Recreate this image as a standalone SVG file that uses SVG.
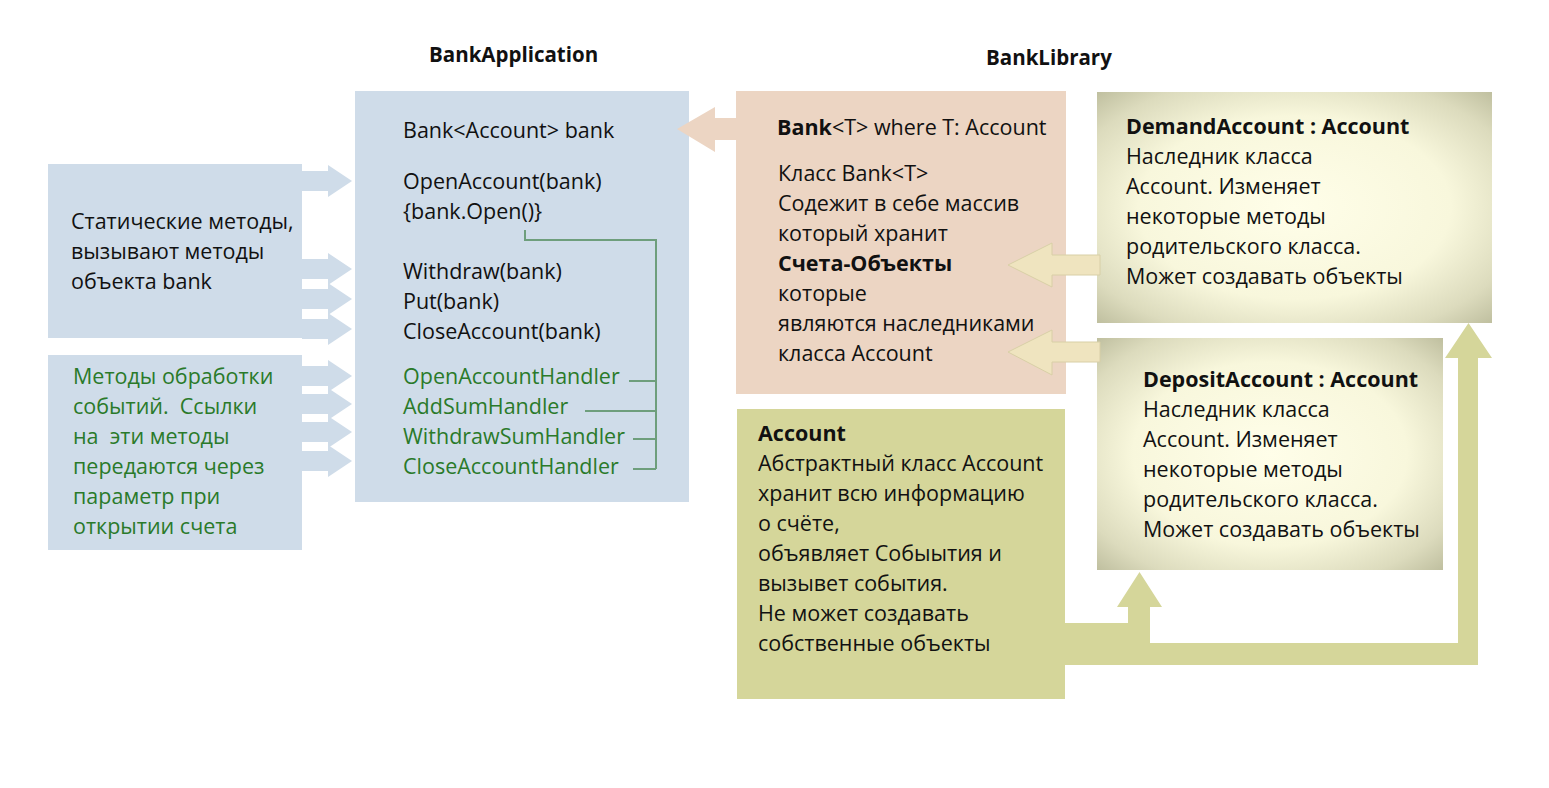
<svg xmlns="http://www.w3.org/2000/svg" width="1549" height="788" viewBox="0 0 1549 788">
<style>
text{font-family:"Open Sans","Noto Sans","Liberation Sans",sans-serif;font-size:21.5px;fill:#111;white-space:pre}
.b{font-weight:bold}
.g{fill:#2a7a2a}
.h{font-weight:bold;font-size:20.5px}
.blue{fill:#cfdce9}
.peach{fill:#ecd5c3}
.olive{fill:#d5d69a}
.beige{fill:#efe4bf;stroke:#d8cfa6;stroke-width:1}
.br{fill:none;stroke:#6e9e7c;stroke-width:2}
</style>
<defs>
<radialGradient id="vig" cx="0.5" cy="0.5" r="0.72">
<stop offset="0" stop-color="#fffee9"/>
<stop offset="0.55" stop-color="#f8f7dc"/>
<stop offset="0.82" stop-color="#dcdbbd"/>
<stop offset="1" stop-color="#bcbc9c"/>
</radialGradient>
</defs>
<rect width="1549" height="788" fill="#ffffff"/>
<text class="h" x="429" y="62">BankApplication</text>
<text class="h" x="986" y="65">BankLibrary</text>

<g id="static">
<rect class="blue" x="48" y="164" width="254" height="174"/>
<text x="71" y="229">Статические методы,</text>
<text x="71" y="259">вызывают методы</text>
<text x="71" y="289">объекта bank</text>
</g>

<g id="handlers">
<rect class="blue" x="48" y="355" width="254" height="195"/>
<text class="g" x="73" y="384">Методы обработки</text>
<text class="g" x="73" y="414">событий.  Ссылки</text>
<text class="g" x="73" y="444">на  эти методы</text>
<text class="g" x="73" y="474">передаются через</text>
<text class="g" x="73" y="504">параметр при</text>
<text class="g" x="73" y="534">открытии счета</text>
</g>

<g id="bankapp">
<rect class="blue" x="355" y="91" width="334" height="411"/>
<text x="403" y="138">Bank&lt;Account&gt; bank</text>
<text x="403" y="189">OpenAccount(bank)</text>
<text x="403" y="219">{bank.Open()}</text>
<text x="403" y="279">Withdraw(bank)</text>
<text x="403" y="309">Put(bank)</text>
<text x="403" y="339">CloseAccount(bank)</text>
<text class="g" x="403" y="384">OpenAccountHandler</text>
<text class="g" x="403" y="414">AddSumHandler</text>
<text class="g" x="403" y="444">WithdrawSumHandler</text>
<text class="g" x="403" y="474">CloseAccountHandler</text>
<path class="br" d="M525,230V240H656V469M629,381H656M585,411H656M633,439H656M633,469H656"/>
</g>

<g id="bank">
<rect class="peach" x="736" y="91" width="330" height="303"/>
<text x="777" y="135"><tspan class="b">Bank</tspan>&lt;T&gt; where T: Account</text>
<text x="778" y="181">Класс Bank&lt;T&gt;</text>
<text x="778" y="211">Содежит в себе массив</text>
<text x="778" y="241">который хранит</text>
<text class="b" x="778" y="271">Счета-Объекты</text>
<text x="778" y="301">которые</text>
<text x="778" y="331">являются наследниками</text>
<text x="778" y="361">класса Account</text>
</g>

<g id="demand">
<rect x="1097" y="92" width="395" height="231" fill="url(#vig)"/>
<text class="b" x="1126" y="134">DemandAccount : Account</text>
<text x="1126" y="164">Наследник класса</text>
<text x="1126" y="194">Account. Изменяет</text>
<text x="1126" y="224">некоторые методы</text>
<text x="1126" y="254">родительского класса.</text>
<text x="1126" y="284">Может создавать объекты</text>
</g>

<g id="deposit">
<rect x="1097" y="338" width="346" height="232" fill="url(#vig)"/>
<text class="b" x="1143" y="387">DepositAccount : Account</text>
<text x="1143" y="417">Наследник класса</text>
<text x="1143" y="447">Account. Изменяет</text>
<text x="1143" y="477">некоторые методы</text>
<text x="1143" y="507">родительского класса.</text>
<text x="1143" y="537">Может создавать объекты</text>
</g>

<g id="account">
<rect class="olive" x="737" y="409" width="328" height="290"/>
<text class="b" x="758" y="441">Account</text>
<text x="758" y="471">Абстрактный класс Account</text>
<text x="758" y="501">хранит всю информацию</text>
<text x="758" y="531">о счёте,</text>
<text x="758" y="561">объявляет Собыытия и</text>
<text x="758" y="591">вызывет события.</text>
<text x="758" y="621">Не может создавать</text>
<text x="758" y="651">собственные объекты</text>
</g>

<g id="connectors">
<path class="blue" d="M302,171H328V165L352,181L328,197V191H302Z"/>
<path class="blue" d="M302,259H328V253L352,269L328,285V279H302Z"/>
<path class="blue" d="M302,289H328V283L352,299L328,315V309H302Z"/>
<path class="blue" d="M302,319H328V313L352,329L328,345V339H302Z"/>
<path class="blue" d="M302,366H328V360L352,376L328,392V386H302Z"/>
<path class="blue" d="M302,394H328V388L352,404L328,420V414H302Z"/>
<path class="blue" d="M302,422H328V416L352,432L328,448V442H302Z"/>
<path class="blue" d="M302,451H328V445L352,461L328,477V471H302Z"/>
<path class="peach" d="M737,118H715V107L677,129L715,152V140H737Z"/>
<path class="beige" d="M1100,255H1052V243L1008,265L1052,287V275H1100Z"/>
<path class="beige" d="M1100,342H1052V330L1008,352L1052,375V362H1100Z"/>
<path class="olive" d="M1064,623H1128V607H1117L1139.5,572L1162,607H1150V665H1064Z"/>
<path class="olive" d="M1064,643H1458V358H1445L1468.5,323L1492,358H1478V665H1064Z"/>
</g>
</svg>
